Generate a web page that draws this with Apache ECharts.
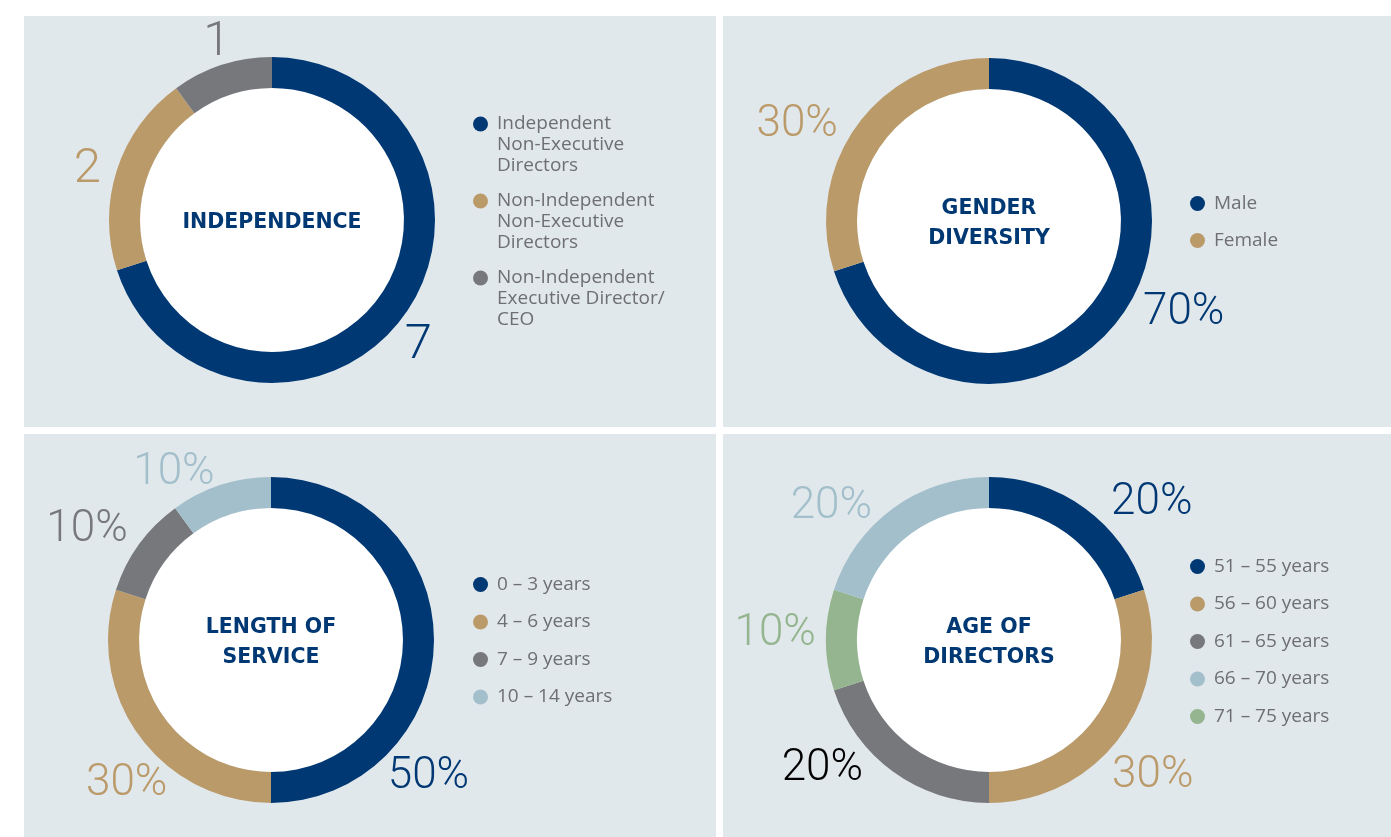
<!DOCTYPE html>
<html>
<head>
<meta charset="utf-8">
<title>Board composition</title>
<script src="https://cdn.jsdelivr.net/npm/echarts@6/dist/echarts.min.js"></script>
<style>
  html, body { margin: 0; padding: 0; background: #ffffff; }
  body { width: 1391px; height: 837px; position: relative; overflow: hidden; }
  .panel { position: absolute; background: #e1e8ec; }
  #independence { left: 24px; top: 16px; width: 692px; height: 411px; }
  #gender { left: 723px; top: 16px; width: 668px; height: 411px; }
  #service { left: 24px; top: 434px; width: 692px; height: 403px; }
  #age { left: 723px; top: 434px; width: 668px; height: 403px; }
</style>
</head>
<body>
<div id="independence" class="panel"></div>
<div id="gender" class="panel"></div>
<div id="service" class="panel"></div>
<div id="age" class="panel"></div>
<script>
// --- Data ---------------------------------------------------------------------

var independenceNames = [
  'Independent Non-Executive Directors',
  'Non-Independent Non-Executive Directors',
  'Non-Independent Executive Director/CEO'
];
var independenceLegend = [
  'Independent\nNon-Executive\nDirectors',
  'Non-Independent\nNon-Executive\nDirectors',
  'Non-Independent\nExecutive Director/\nCEO'
];
var independenceValues = [7, 2, 1];

var genderNames = ['Male', 'Female'];
var genderValues = [70, 30];

var serviceNames = ['0 – 3 years', '4 – 6 years', '7 – 9 years', '10 – 14 years'];
var serviceValues = [50, 30, 10, 10];

var ageNames = ['51 – 55 years', '56 – 60 years', '61 – 65 years', '66 – 70 years', '71 – 75 years'];
var ageValues = [20, 30, 20, 20, 10];
// the ring runs 71–75 before 66–70 going clockwise from the top
var ageRingOrder = [0, 1, 2, 4, 3];

// --- Style --------------------------------------------------------------------

var NAVY = '#003874';
var TAN = '#bb9a6a';
var GREY = '#77787b';
var SKY = '#a2bfcb';
var SAGE = '#94b58f';

var INNER_R = 132;
var OUTER_R = 163;

var _titleStyle = {
  color: NAVY,
  fontFamily: '"DejaVu Sans", sans-serif',
  fontWeight: 'bold',
  fontSize: 20.5,
  lineHeight: 30
};

var _legendText = {
  color: '#6e6f72',
  fontFamily: '"Open Sans", sans-serif',
  fontSize: 19,
  lineHeight: 21,
  padding: [0, 0, 0, 4]
};

// --- Donut --------------------------------------------------------------------

function renderDonut(id, opts) {
  // opts: title, names, values, order, colors, labelColors, suffix, labelSize,
  //       center, labelSpots [angleDeg, distance] in ring order, legend {left, top, gap, text}
  var chart = echarts.init(document.getElementById(id), null, { renderer: 'canvas' });
  var order = opts.order || opts.names.map(function (n, i) { return i; });
  var labelColors = opts.labelColors || opts.colors;
  var cx = opts.center[0];
  var cy = opts.center[1];

  var ring = order.map(function (i) {
    return {
      name: opts.names[i],
      value: opts.values[i],
      itemStyle: { color: opts.colors[i] },
      label: { color: labelColors[i] }
    };
  });

  var legendText = opts.legend.text;

  chart.setOption({
    backgroundColor: 'transparent',
    animation: false,
    legend: {
      orient: 'vertical',
      left: opts.legend.left,
      top: opts.legend.top,
      padding: 0,
      itemGap: opts.legend.gap,
      itemWidth: 15,
      itemHeight: 15,
      icon: 'circle',
      selectedMode: false,
      data: opts.names,
      formatter: legendText ? function (name) {
        // two blank lines above keep the dot level with the first line
        return '\n\n' + legendText[opts.names.indexOf(name)];
      } : '{name}',
      textStyle: _legendText
    },
    series: [
      {
        // white disc carrying the centre title
        type: 'pie',
        silent: true,
        center: [cx, cy],
        radius: [0, INNER_R],
        data: [{ name: opts.title, value: 1 }],
        itemStyle: { color: '#ffffff', borderWidth: 0 },
        label: Object.assign({ show: true, position: 'center', formatter: function () { return opts.title; } }, _titleStyle),
        labelLayout: { dy: 3 },
        labelLine: { show: false },
        emphasis: { disabled: true }
      },
      {
        type: 'pie',
        silent: true,
        center: [cx, cy],
        radius: [INNER_R, OUTER_R],
        startAngle: 90,
        clockwise: true,
        avoidLabelOverlap: false,
        data: ring,
        itemStyle: { borderWidth: 0 },
        label: {
          show: true,
          position: 'outside',
          overflow: 'none',
          fontFamily: 'Roboto, sans-serif',
          fontWeight: 300,
          fontSize: opts.labelSize,
          formatter: function (p) { return p.value + (opts.suffix || ''); }
        },
        labelLine: { show: false },
        labelLayout: function (p) {
          var spot = opts.labelSpots[p.dataIndex];
          var a = spot[0] * Math.PI / 180;
          return {
            x: cx + spot[1] * Math.cos(a),
            y: cy - spot[1] * Math.sin(a) + 3,
            align: 'center',
            verticalAlign: 'middle'
          };
        },
        emphasis: { disabled: true }
      }
    ]
  });
  return chart;
}

renderDonut('independence', {
  title: 'INDEPENDENCE',
  names: independenceNames,
  values: independenceValues,
  colors: [NAVY, TAN, GREY],
  labelSize: 49,
  center: [248, 204],
  labelSpots: [[-40, 191], [164, 192], [107, 189]],
  legend: { left: 449, top: 55.5, gap: -28, text: independenceLegend }
});

renderDonut('gender', {
  title: 'GENDER\nDIVERSITY',
  names: genderNames,
  values: genderValues,
  colors: [NAVY, TAN],
  suffix: '%',
  labelSize: 44,
  center: [266, 205],
  labelSpots: [[-24.5, 214], [152.6, 216]],
  legend: { left: 467, top: 177, gap: 16 }
});

renderDonut('service', {
  title: 'LENGTH OF\nSERVICE',
  names: serviceNames,
  values: serviceValues,
  colors: [NAVY, TAN, GREY, SKY],
  suffix: '%',
  labelSize: 44,
  center: [247, 206],
  labelSpots: [[-40.5, 207], [224.4, 202], [148.4, 216], [119.7, 196]],
  legend: { left: 449, top: 140, gap: 16.5 }
});

renderDonut('age', {
  title: 'AGE OF\nDIRECTORS',
  names: ageNames,
  values: ageValues,
  order: ageRingOrder,
  colors: [NAVY, TAN, GREY, SKY, SAGE],
  labelColors: [NAVY, TAN, '#000000', SKY, SAGE],
  suffix: '%',
  labelSize: 44,
  center: [266, 206],
  labelSpots: [[40.8, 215], [-39.1, 211], [217.1, 209], [177.6, 214], [139.3, 208]],
  legend: { left: 467, top: 122, gap: 16.5 }
});
</script>
</body>
</html>
